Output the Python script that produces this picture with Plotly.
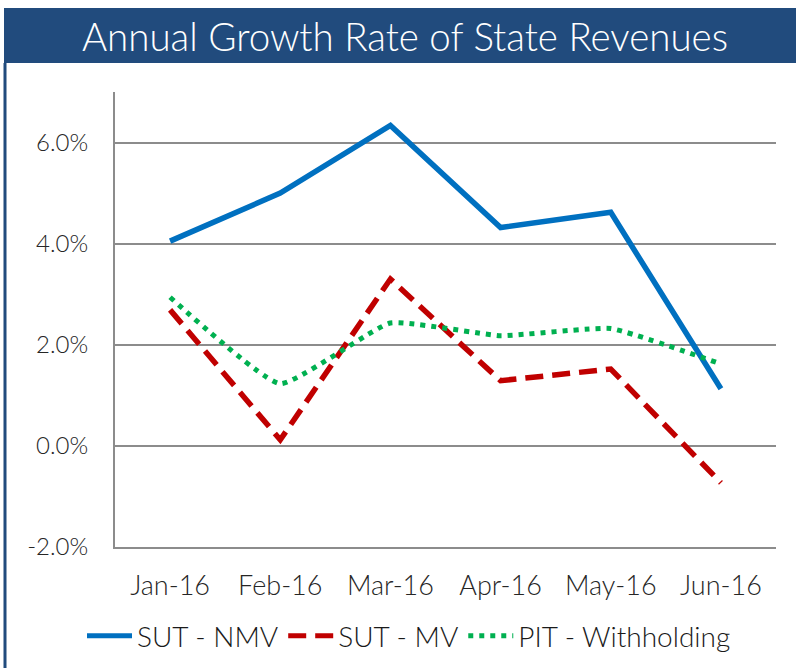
import plotly.graph_objects as go

months = ["Jan-16", "Feb-16", "Mar-16", "Apr-16", "May-16", "Jun-16"]
sut_nmv = [4.05, 5.00, 6.34, 4.32, 4.62, 1.13]
sut_mv = [2.69, 0.12, 3.30, 1.29, 1.52, -0.73]
pit_wh = [2.94, 1.23, 2.43, 2.18, 2.32, 1.62]

font_family = "Lato, 'Open Sans', sans-serif"
banner_color = "#214B7D"
W, H = 796, 668
L, R, T, B = 115, 20, 92, 121
PW, PH = W - L - R, H - T - B

fig = go.Figure()
fig.add_trace(go.Scatter(x=months, y=sut_nmv, name="SUT - NMV", mode="lines",
                         line=dict(color="#0070C0", width=5.5)))
fig.add_trace(go.Scatter(x=months, y=sut_mv, name="SUT - MV", mode="lines",
                         line=dict(color="#C00000", width=5.5, dash="18px,9px")))
fig.add_trace(go.Scatter(x=months, y=pit_wh, name="PIT - Withholding", mode="lines",
                         line=dict(color="#00B050", width=5, dash="5px,6px",
                                   shape="spline", smoothing=0.4)))

fig.update_layout(
    width=W, height=H,
    paper_bgcolor="white", plot_bgcolor="white",
    margin=dict(l=L, r=R, t=T, b=B, autoexpand=False),
    font=dict(family=font_family, size=25, color="#262626", weight=300),
    showlegend=True,
    legend=dict(orientation="h", xref="container", x=409 / W, xanchor="center",
                y=-(636 - T - PH) / PH, yanchor="middle",
                font=dict(size=28, color="#1a1a1a", weight=300),
                tracegroupgap=0, itemsizing="constant", itemwidth=45),
    shapes=[
        dict(type="rect", xref="paper", yref="paper", x0=-(L - 4) / PW, x1=1 + R / PW,
             y0=1 + (T - 63) / PH, y1=1 + (T - 8) / PH, fillcolor=banner_color,
             line=dict(width=0), layer="above"),
        dict(type="line", xref="paper", yref="paper", x0=-(L - 5) / PW, x1=-(L - 5) / PW,
             y0=-B / PH, y1=1 + (T - 63) / PH, line=dict(color=banner_color, width=3)),
    ],
    annotations=[
        dict(text="Annual Growth Rate of State Revenues", xref="paper", yref="paper",
             x=(405 - L) / PW, y=1 + (T - 36) / PH, xanchor="center", yanchor="middle",
             showarrow=False, font=dict(size=38.5, color="white", family=font_family, weight=300)),
    ],
)

fig.update_xaxes(showgrid=False, showline=True, linecolor="#8C8C8C", linewidth=2,
                 ticks="", ticklabelstandoff=14, tickangle=0,
                 tickfont=dict(size=27, color="#262626", weight=300),
                 range=[-0.5, 5.5])
fig.update_yaxes(range=[-2, 7], tickvals=[-2, 0, 2, 4, 6],
                 ticktext=["-2.0%", "0.0%", "2.0%", "4.0%", "6.0%"],
                 showgrid=True, gridcolor="#8C8C8C", gridwidth=2,
                 showline=True, linecolor="#8C8C8C", linewidth=2,
                 zeroline=False, ticks="", ticklabelstandoff=20,
                 tickfont=dict(size=24, color="#262626", weight=300))

fig.write_html("out.html", config={"displayModeBar": False},
               post_script="document.body.style.margin='0';")
